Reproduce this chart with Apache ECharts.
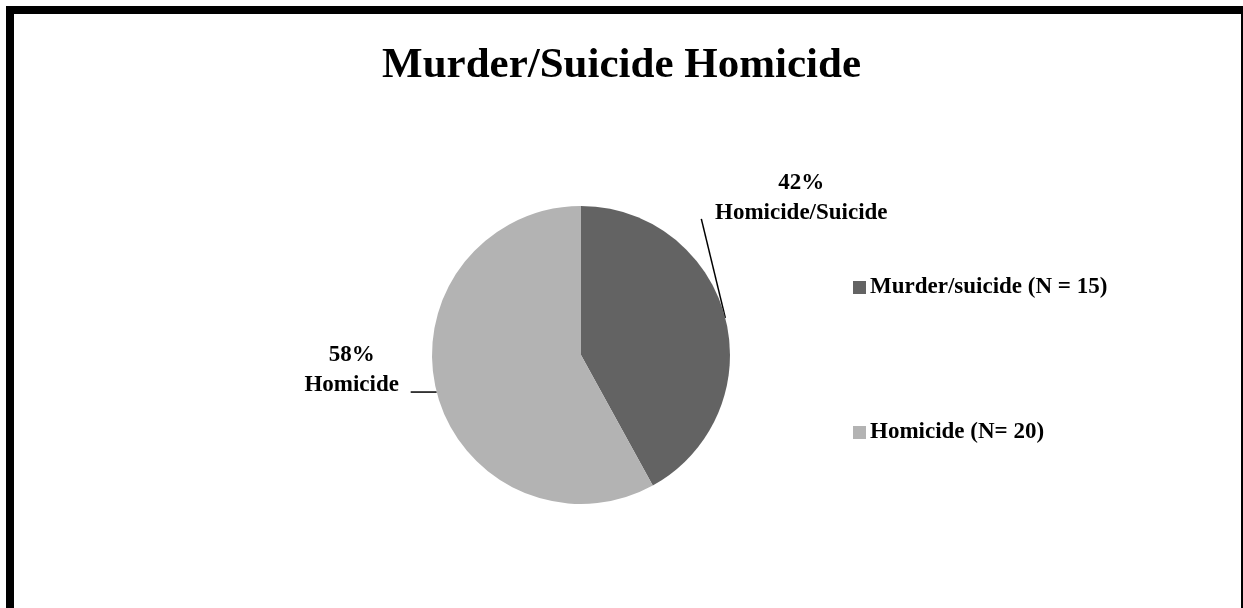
<!DOCTYPE html>
<html>
<head>
<meta charset="utf-8">
<script src="https://cdn.jsdelivr.net/npm/echarts@6/dist/echarts.min.js"></script>
<style>
  html, body { margin: 0; padding: 0; background: #fff; }
  #chart { width: 1243px; height: 608px; }
  .frame {
    position: absolute; left: 6px; top: 6px; width: 1227px; height: 640px;
    border-top: 8px solid #000; border-left: 8px solid #000; border-right: 2px solid #000;
    pointer-events: none;
  }
</style>
</head>
<body>
<div id="chart"></div>
<div class="frame"></div>
<script>
// data
const categories = ['Murder/suicide (N = 15)', 'Homicide (N= 20)']
const shares = [42, 58]
const sliceNames = ['Homicide/Suicide', 'Homicide']
const colors = ['#636363', '#b3b3b3']

const serif = '"Liberation Serif", "DejaVu Serif", serif'

const chart = echarts.init(document.getElementById('chart'))
chart.setOption({
  backgroundColor: '#ffffff',
  animation: false,
  title: {
    text: 'Murder/Suicide Homicide',
    left: 'center',
    top: 39,
    textStyle: { fontFamily: serif, fontSize: 43, fontWeight: 'bold', color: '#000' }
  },
  legend: {
    orient: 'vertical',
    left: 853,
    top: 276,
    padding: 0,
    itemGap: 122,
    itemWidth: 13,
    itemHeight: 13,
    icon: 'rect',
    data: categories,
    textStyle: { fontFamily: serif, fontSize: 23, fontWeight: 'bold', color: '#000', padding: [0, 0, 0, -1] }
  },
  series: [
    {
      type: 'pie',
      center: [581, 355],
      radius: 149,
      startAngle: 90,
      clockwise: true,
      color: colors,
      data: categories.map((c, i) => ({ name: c, value: shares[i] })),
      label: {
        show: true,
        position: 'outside',
        formatter: p => Math.round(p.percent) + '%\n' + sliceNames[p.dataIndex],
        fontFamily: serif,
        fontSize: 23,
        fontWeight: 'bold',
        color: '#000',
        lineHeight: 30,
        align: 'center'
      },
      labelLine: {
        show: true,
        length: 10,
        length2: 10,
        lineStyle: { color: '#000', width: 1.5 }
      },
      labelLayout: params => {
        const a = params.labelLinePoints[0]
        if (params.dataIndex === 0) {
          const end = [a[0] - 24, a[1] - 99]
          return {
            x: a[0] + 76, y: a[1] - 120,
            align: 'center', verticalAlign: 'middle',
            labelLinePoints: [a, end, end]
          }
        }
        const end = [a[0] - 26, a[1]]
        return {
          x: a[0] - 85, y: a[1] - 22,
          align: 'center', verticalAlign: 'middle',
          labelLinePoints: [a, end, end]
        }
      },
      emphasis: { disabled: true }
    }
  ]
})
</script>
</body>
</html>
